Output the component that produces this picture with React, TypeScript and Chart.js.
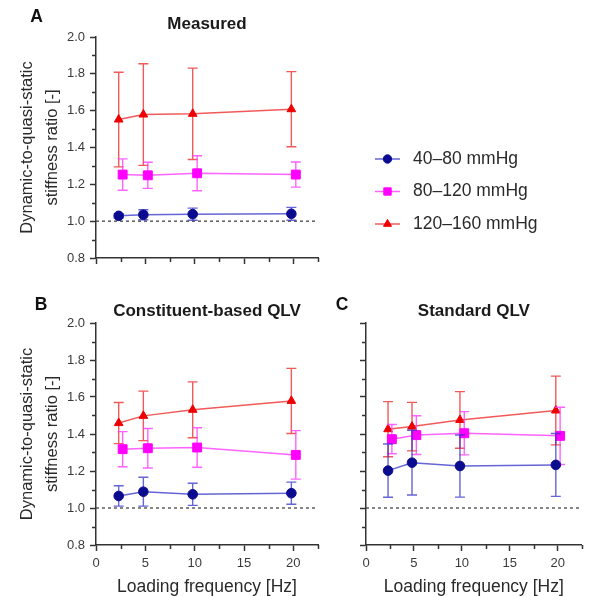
import React, { useEffect, useRef } from 'react';
import { Chart, registerables } from 'chart.js';
import { drawPoint } from 'chart.js/helpers';

Chart.register(...registerables);

// ---------- data ----------
const SERIES_NAMES = ['40–80 mmHg', '80–120 mmHg', '120–160 mmHg'];
const FREQ_BLUE = [2.3, 4.8, 9.8, 19.8];
const FREQ_MAGENTA = [2.7, 5.25, 10.25, 20.25];
const FREQ_RED = [2.3, 4.8, 9.8, 19.8];

const MEASURED_BLUE = [1.029, 1.035, 1.038, 1.04];
const MEASURED_BLUE_SD = [0.012, 0.027, 0.033, 0.035];
const MEASURED_MAGENTA = [1.253, 1.249, 1.26, 1.253];
const MEASURED_MAGENTA_SD = [0.085, 0.071, 0.095, 0.068];
const MEASURED_RED = [1.552, 1.579, 1.583, 1.608];
const MEASURED_RED_SD = [0.257, 0.276, 0.248, 0.204];

const CONSTITUENT_BLUE = [1.065, 1.088, 1.074, 1.08];
const CONSTITUENT_BLUE_SD = [0.055, 0.078, 0.06, 0.06];
const CONSTITUENT_MAGENTA = [1.318, 1.323, 1.327, 1.287];
const CONSTITUENT_MAGENTA_SD = [0.095, 0.107, 0.107, 0.131];
const CONSTITUENT_RED = [1.459, 1.498, 1.531, 1.579];
const CONSTITUENT_RED_SD = [0.111, 0.134, 0.151, 0.176];

const STANDARD_BLUE = [1.202, 1.245, 1.227, 1.233];
const STANDARD_BLUE_SD = [0.144, 0.175, 0.168, 0.17];
const STANDARD_MAGENTA = [1.372, 1.394, 1.404, 1.39];
const STANDARD_MAGENTA_SD = [0.079, 0.105, 0.117, 0.155];
const STANDARD_RED = [1.426, 1.44, 1.476, 1.527];
const STANDARD_RED_SD = [0.149, 0.131, 0.153, 0.186];

const REFERENCE_LEVEL = 1.0;
const Y_MIN = 0.8;
const Y_MAX = 2.0;
const Y_STEP = 0.1;
const X_MIN = 0;
const X_MAX = 22.5;
const X_STEP = 2.5;
const Y_TICK_LABELS = ['0.8', '1.0', '1.2', '1.4', '1.6', '1.8', '2.0'];
const X_TICK_LABELS = ['0', '5', '10', '15', '20'];
const Y_TITLE = ['Dynamic-to-quasi-static', 'stiffness ratio [-]'];
const X_TITLE = 'Loading frequency [Hz]';

// ---------- styles ----------
const FONT = "'Liberation Sans', Arial, Helvetica, sans-serif";
const AXIS = '#333333';
const STYLES = [
  { marker: '#0b0b8f', line: 'rgba(50,50,200,0.75)', pointStyle: 'circle', radius: 4.8, legendRadius: 4.2 },
  { marker: '#ff00ff', line: 'rgba(255,60,255,0.8)', pointStyle: 'rect', radius: 6.3, legendRadius: 5.2 },
  { marker: '#ee0000', line: 'rgba(240,60,60,0.85)', pointStyle: 'triangle', radius: 5, legendRadius: 4.6 },
];

const yLabel = (v: number) => {
  const s = Number(v).toFixed(1);
  return Y_TICK_LABELS.includes(s) ? s : '';
};
const xLabel = (v: number) => {
  const s = String(Math.round(Number(v) * 100) / 100);
  return X_TICK_LABELS.includes(s) ? s : '';
};

// ---------- plugins ----------
const errorBars = {
  id: 'errorBars',
  beforeDatasetDraw(chart: any, args: any) {
    const ds = chart.data.datasets[args.index];
    if (!ds.errors) return;
    const { ctx } = chart;
    const x = chart.scales.x;
    const y = chart.scales.y;
    ctx.save();
    ctx.strokeStyle = ds.borderColor;
    ctx.lineWidth = 1.4;
    ds.data.forEach((p: any, i: number) => {
      const px = x.getPixelForValue(p.x);
      const yt = y.getPixelForValue(p.y + ds.errors[i]);
      const yb = y.getPixelForValue(p.y - ds.errors[i]);
      ctx.beginPath();
      ctx.moveTo(px, yt);
      ctx.lineTo(px, yb);
      ctx.moveTo(px - 5, yt);
      ctx.lineTo(px + 5, yt);
      ctx.moveTo(px - 5, yb);
      ctx.lineTo(px + 5, yb);
      ctx.stroke();
    });
    ctx.restore();
  },
};

const minorTicks = {
  id: 'minorTicks',
  afterDraw(chart: any) {
    const { ctx, chartArea } = chart;
    const x = chart.scales.x;
    const y = chart.scales.y;
    ctx.save();
    ctx.strokeStyle = AXIS;
    ctx.lineWidth = 1.5;
    ctx.beginPath();
    x.ticks.forEach((t: any) => {
      if (xLabel(t.value) === '') {
        const px = Math.round(x.getPixelForValue(t.value)) + 0.5;
        ctx.moveTo(px, chartArea.bottom);
        ctx.lineTo(px, chartArea.bottom + 4);
      }
    });
    y.ticks.forEach((t: any) => {
      if (yLabel(t.value) === '') {
        const py = Math.round(y.getPixelForValue(t.value)) + 0.5;
        ctx.moveTo(chartArea.left, py);
        ctx.lineTo(chartArea.left - 4, py);
      }
    });
    ctx.stroke();
    ctx.restore();
  },
};

const panelLetter = {
  id: 'panelLetter',
  afterDraw(chart: any, _a: any, opts: any) {
    if (!opts || !opts.text) return;
    const { ctx } = chart;
    ctx.save();
    ctx.font = `bold 17.5px ${FONT}`;
    ctx.fillStyle = '#111';
    ctx.textAlign = 'center';
    ctx.textBaseline = 'middle';
    ctx.fillText(opts.text, opts.x, opts.y);
    ctx.restore();
  },
};

const sideLegend = {
  id: 'sideLegend',
  afterDraw(chart: any, _a: any, opts: any) {
    if (!opts || !opts.display) return;
    const { ctx } = chart;
    const items = chart.data.datasets.filter((d: any) => d.errors);
    items.forEach((ds: any, i: number) => {
      const cy = opts.y + i * opts.gap;
      ctx.save();
      ctx.strokeStyle = ds.borderColor;
      ctx.lineWidth = 1.5;
      ctx.beginPath();
      ctx.moveTo(opts.x, cy);
      ctx.lineTo(opts.x + opts.lineLength, cy);
      ctx.stroke();
      ctx.fillStyle = ds.pointBackgroundColor;
      ctx.strokeStyle = ds.pointBorderColor;
      ctx.lineWidth = 1;
      drawPoint(ctx, { pointStyle: ds.pointStyle, radius: ds.legendRadius, rotation: 0, borderWidth: 1 } as any, opts.x + opts.lineLength / 2, cy);
      ctx.fillStyle = '#2a2a2a';
      ctx.font = `17.5px ${FONT}`;
      ctx.textAlign = 'left';
      ctx.textBaseline = 'middle';
      ctx.fillText(ds.label, opts.textX, cy);
      ctx.restore();
    });
  },
};

// ---------- config ----------
type PanelSpec = {
  title: string;
  letter: { text: string; x: number; y: number };
  blue: number[]; blueSd: number[];
  magenta: number[]; magentaSd: number[];
  red: number[]; redSd: number[];
  showYLabels: boolean;
  showXLabels: boolean;
  yWidth: number;
  xHeight: number;
  padding: { left: number; right: number; top: number; bottom: number };
  titlePad: { top: number; bottom: number };
  legend: boolean;
};

function series(idx: number, xs: number[], ys: number[], sd: number[]) {
  const st = STYLES[idx];
  return {
    label: SERIES_NAMES[idx],
    data: ys.map((y, i) => ({ x: xs[i], y })),
    errors: sd,
    borderColor: st.line,
    borderWidth: 1.5,
    pointStyle: st.pointStyle,
    pointRadius: st.radius,
    legendRadius: st.legendRadius,
    pointBackgroundColor: st.marker,
    pointBorderColor: st.marker,
    pointBorderWidth: 1,
    tension: 0,
    fill: false,
  };
}

function buildConfig(p: PanelSpec): any {
  return {
    type: 'line',
    data: {
      datasets: [
        series(0, FREQ_BLUE, p.blue, p.blueSd),
        series(1, FREQ_MAGENTA, p.magenta, p.magentaSd),
        series(2, FREQ_RED, p.red, p.redSd),
        {
          label: 'reference',
          data: [{ x: X_MIN, y: REFERENCE_LEVEL }, { x: X_MAX, y: REFERENCE_LEVEL }],
          borderColor: '#444',
          borderWidth: 1.3,
          borderDash: [3, 3],
          pointRadius: 0,
          fill: false,
        },
      ],
    },
    options: {
      responsive: false,
      animation: false,
      devicePixelRatio: 1,
      layout: { padding: p.padding },
      events: [],
      scales: {
        x: {
          type: 'linear',
          min: X_MIN,
          max: X_MAX,
          afterFit: (s: any) => { s.height = p.xHeight; },
          ticks: {
            stepSize: X_STEP,
            autoSkip: false,
            maxRotation: 0,
            padding: 5,
            color: '#3a3a3a',
            font: { family: FONT, size: 13 },
            callback: (v: number) => (p.showXLabels ? xLabel(v) : ''),
          },
          grid: {
            drawOnChartArea: false,
            drawTicks: true,
            tickLength: 6,
            tickWidth: 1.5,
            tickColor: (c: any) => (xLabel(c.tick.value) !== '' ? AXIS : 'rgba(0,0,0,0)'),
          },
          border: { display: true, color: AXIS, width: 1.5 },
          title: {
            display: p.showXLabels,
            text: X_TITLE,
            color: '#2a2a2a',
            font: { family: FONT, size: 17.5, lineHeight: 1 },
            padding: { top: 0, bottom: 0 },
          },
        },
        y: {
          type: 'linear',
          min: Y_MIN,
          max: Y_MAX,
          afterFit: (s: any) => { s.width = p.yWidth; },
          ticks: {
            stepSize: Y_STEP,
            autoSkip: false,
            padding: 5,
            color: '#3a3a3a',
            font: { family: FONT, size: 13 },
            callback: (v: number) => (p.showYLabels ? yLabel(v) : ''),
          },
          grid: {
            drawOnChartArea: false,
            drawTicks: true,
            tickLength: 6,
            tickWidth: 1.5,
            tickColor: (c: any) => (yLabel(c.tick.value) !== '' ? AXIS : 'rgba(0,0,0,0)'),
          },
          border: { display: true, color: AXIS, width: 1.5 },
          title: {
            display: p.showYLabels,
            text: Y_TITLE,
            color: '#2a2a2a',
            font: { family: FONT, size: 16.5, lineHeight: 1.55 },
            padding: { top: 14.5, bottom: 0 },
          },
        },
      },
      plugins: {
        legend: { display: false },
        tooltip: { enabled: false },
        title: {
          display: true,
          text: p.title,
          fullSize: false,
          color: '#1a1a1a',
          font: { family: FONT, size: 17, weight: 'bold', lineHeight: 1.2 },
          padding: p.titlePad,
        },
        panelLetter: p.letter,
        sideLegend: { display: p.legend, x: 375, y: 159, gap: 32.5, lineLength: 25, textX: 413 },
      },
    },
    plugins: [errorBars, minorTicks, panelLetter, sideLegend],
  };
}

const PANEL_A: PanelSpec = {
  title: 'Measured',
  letter: { text: 'A', x: 36.5, y: 17 },
  blue: MEASURED_BLUE, blueSd: MEASURED_BLUE_SD,
  magenta: MEASURED_MAGENTA, magentaSd: MEASURED_MAGENTA_SD,
  red: MEASURED_RED, redSd: MEASURED_RED_SD,
  showYLabels: true,
  showXLabels: false,
  yWidth: 96,
  xHeight: 32,
  padding: { left: 0, right: 271, top: 0, bottom: 0 },
  titlePad: { top: 13.8, bottom: 2.8 },
  legend: true,
};

const PANEL_B: PanelSpec = {
  title: 'Constituent-based QLV',
  letter: { text: 'B', x: 41, y: 15 },
  blue: CONSTITUENT_BLUE, blueSd: CONSTITUENT_BLUE_SD,
  magenta: CONSTITUENT_MAGENTA, magentaSd: CONSTITUENT_MAGENTA_SD,
  red: CONSTITUENT_RED, redSd: CONSTITUENT_RED_SD,
  showYLabels: true,
  showXLabels: true,
  yWidth: 96,
  xHeight: 51,
  padding: { left: 0, right: 12, top: 0, bottom: 0 },
  titlePad: { top: 10.8, bottom: 1.8 },
  legend: false,
};

const PANEL_C: PanelSpec = {
  title: 'Standard QLV',
  letter: { text: 'C', x: 12, y: 15.5 },
  blue: STANDARD_BLUE, blueSd: STANDARD_BLUE_SD,
  magenta: STANDARD_MAGENTA, magentaSd: STANDARD_MAGENTA_SD,
  red: STANDARD_RED, redSd: STANDARD_RED_SD,
  showYLabels: false,
  showXLabels: true,
  yWidth: 36,
  xHeight: 51,
  padding: { left: 0, right: 2.5, top: 0, bottom: 0 },
  titlePad: { top: 10.8, bottom: 1.8 },
  legend: false,
};

function Panel({ spec, left, top, width, height }: { spec: PanelSpec; left: number; top: number; width: number; height: number }) {
  const ref = useRef<HTMLCanvasElement>(null);
  useEffect(() => {
    const chart = new Chart(ref.current as HTMLCanvasElement, buildConfig(spec));
    return () => chart.destroy();
  }, [spec]);
  return (
    <canvas
      ref={ref}
      width={width}
      height={height}
      style={{ position: 'absolute', left, top, width, height, display: 'block' }}
    />
  );
}

export default function App() {
  return (
    <div style={{ position: 'absolute', left: 0, top: 0, width: 589, height: 596, background: '#fff', overflow: 'hidden' }}>
      <Panel spec={PANEL_A} left={0} top={0} width={589} height={290} />
      <Panel spec={PANEL_B} left={0} top={290} width={330} height={306} />
      <Panel spec={PANEL_C} left={330} top={290} width={259} height={306} />
    </div>
  );
}
